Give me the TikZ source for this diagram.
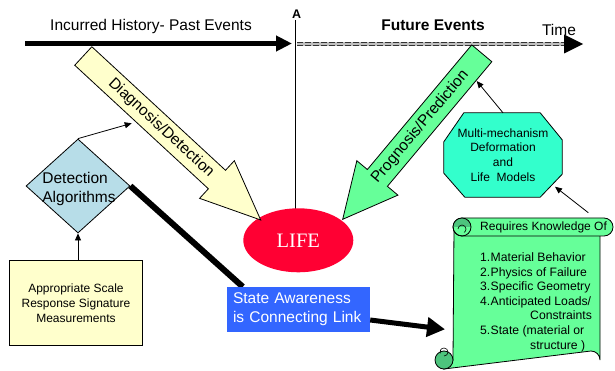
\documentclass[tikz,border=0pt]{standalone}
\usepackage{fontspec}
\setmainfont{Liberation Sans}
\newfontfamily\serifLS{Liberation Serif}
\usetikzlibrary{shapes.geometric,arrows.meta,calc}
\pgfdeclarelayer{bg}
\pgfsetlayers{bg,main}
\definecolor{yel}{HTML}{FFFFCC}
\definecolor{grn}{HTML}{66FF99}
\definecolor{dgrn}{HTML}{4DC47D}
\definecolor{aqua}{HTML}{33FFCC}
\definecolor{pblue}{HTML}{B7DDE8}
\definecolor{lred}{HTML}{FF0033}
\definecolor{sblue}{HTML}{3366FF}
\begin{document}
\begin{tikzpicture}[x=1pt,y=-1pt,
  big/.style={inner sep=0, font=\fontsize{15.5}{19}\selectfont},
  small/.style={inner sep=0, font=\fontsize{12}{14.6}\selectfont},
  listtxt/.style={inner sep=0, anchor=base west, font=\fontsize{12.2}{14}\selectfont},
  thinarrow/.style={line width=0.8pt, -{Triangle[length=7pt,width=6pt]}},
  blockarrow/.style={draw=black, line width=0.8pt, line join=miter}]
\useasboundingbox (0,0) rectangle (615,371);

% ---- time axis
\coordinate (pstart) at (25,43.5);
\coordinate (pend) at (292,43.5);
\draw[line width=4.5pt, -{Triangle[length=16pt,width=15pt]}] (pstart) -- (pend);
\coordinate (fstart) at (297,44);
\coordinate (fmid) at (566,44);
\coordinate (fend) at (583,44);
\draw[line width=4.4pt, gray!50] (fstart) -- (fmid);
\draw[line width=1.1pt, black!80, dash pattern=on 6pt off 2pt] ($(fstart)+(0,-1.6)$) -- ($(fmid)+(0,-1.6)$);
\draw[line width=1.1pt, black!80, dash pattern=on 6pt off 2pt] ($(fstart)+(0,1.6)$) -- ($(fmid)+(0,1.6)$);
\fill (fend) -- ($(fend)+(-19,-9.5)$) -- ($(fend)+(-19,9.5)$) -- cycle;

\node[big, anchor=base] (past) at (151,30.7) {Incurred History- Past Events};
\node[inner sep=0, anchor=base, font=\bfseries\fontsize{15.5}{19}\selectfont] (future) at (433,30.7) {Future Events};
\node[big, anchor=base] (time) at (559,35.5) {Time};
\node[inner sep=0, anchor=base, font=\bfseries\fontsize{12.5}{13}\selectfont] (A) at (296.7,18.5) {A};

\coordinate (vtop) at (295.7,20);
\begin{pgfonlayer}{bg}
\draw[line width=0.9pt] (vtop) -- (295.7,215);
\end{pgfonlayer}

% ---- LIFE
\node[ellipse, fill=lred, minimum width=110pt, minimum height=64pt, inner sep=0,
      text=white, font=\serifLS\fontsize{20.5}{22}\selectfont] (life) at (298.3,240.3) {LIFE};

% ---- Diagnosis / Detection block arrow
\begin{scope}[shift={(83.3,56)}, rotate=-42.75]
  \draw[blockarrow, fill=yel] (0,-12.6) -- (182,-12.6) -- (182,-25.6) -- (241.6,0)
     -- (182,25.6) -- (182,12.6) -- (0,12.6) -- cycle;
\end{scope}
\node[big, rotate=-42.75] (dgtxt) at (161.1,128) {Diagnosis/Detection};

% ---- Prognosis / Prediction block arrow
\begin{scope}[shift={(481.8,53.3)}, rotate=-129.96]
  \draw[blockarrow, fill=grn] (0,-13.1) -- (162.6,-13.1) -- (162.6,-26.8) -- (216.6,0)
     -- (162.6,26.8) -- (162.6,13.1) -- (0,13.1) -- cycle;
\end{scope}
\node[big, rotate=50.04] (pgtxt) at (420.2,126.9) {Prognosis/Prediction};

% ---- Detection algorithms
\node[diamond, fill=pblue, draw, line width=0.8pt, minimum width=104pt, minimum height=94pt, inner sep=0] (det) at (78,186) {};
\node[big, align=left] (dettxt) at (79,188.5) {Detection\\Algorithms};

% ---- measurements box
\node[draw, fill=yel, line width=0.8pt, minimum width=133pt, minimum height=85pt, align=center,
      inner sep=0, font=\fontsize{12}{15}\selectfont] (meas) at (76,303.3)
      {Appropriate Scale\\Response Signature\\Measurements};

\coordinate (dgside) at (131.7,123.3);
\draw[thinarrow] (det.north) -- (dgside);
\draw[thinarrow] (meas.north -| det.south) -- (det.south);

% ---- state awareness
\node[fill=sblue, text=white, minimum width=143pt, minimum height=45pt, align=left, inner sep=0,
      text width=131pt, font=\fontsize{15.5}{19}\selectfont] (sa) at (298.5,309.5)
      {State Awareness\\is Connecting Link};
\begin{pgfonlayer}{bg}
\draw[line width=6pt] (det.east) -- ($(sa.north west)+(16,0)$);
\end{pgfonlayer}

% ---- octagon
\node[small, align=center, minimum width=118pt, minimum height=84pt] (oct) at (503,155)
  {Multi-mechanism\\Deformation\\and\\Life\ \ Models};
\begin{pgfonlayer}{bg}
\draw[fill=aqua, line width=0.8pt] ($(oct.north west)+(20,0)$) -- ($(oct.north east)+(-22,0)$)
  -- ($(oct.north east)+(0,27)$) -- ($(oct.south east)+(0,-23)$) -- ($(oct.south east)+(-22,0)$)
  -- ($(oct.south west)+(21,0)$) -- ($(oct.south west)+(0,-24)$) -- ($(oct.north west)+(0,29)$) -- cycle;
\end{pgfonlayer}
\coordinate (pgside) at (476.7,81);
\draw[thinarrow] (oct.north) -- (pgside);

% ---- scroll
\begin{pgfonlayer}{bg}
\draw[fill=grn, line width=0.8pt] (454,227) -- (600,227) -- (600,360)
   arc[start angle=0, end angle=-90, radius=9] -- (444,369) -- (453,360) -- cycle;
\draw[fill=dgrn, line width=0.8pt] (444,360) circle[radius=9];
\draw[line width=0.6pt] (444,360) ++(0,-4) arc[start angle=90, end angle=-200, radius=4];
\draw[fill=grn, line width=0.8pt, rounded corners=9pt] (453,218) rectangle (613,236);
\fill[dgrn] (453,227) arc[start angle=180, end angle=360, radius=9] -- cycle;
\draw[line width=0.8pt] (462,227) circle[radius=9];
\draw[line width=0.6pt] (458,229) arc[start angle=180, end angle=420, radius=4];
\end{pgfonlayer}
\node[inner sep=0, anchor=base west, font=\fontsize{12}{15}\selectfont] (req) at (480,230.5) {Requires Knowledge Of};
\node[listtxt] (n1) at (480,261) {1.};
\node[listtxt] (i1) at (490.5,261) {Material Behavior};
\node[listtxt] (n2) at (480,276) {2.};
\node[listtxt] (i2) at (490.5,276) {Physics of Failure};
\node[listtxt] (n3) at (480,290.3) {3.};
\node[listtxt] (i3) at (490.5,290.3) {Specific Geometry};
\node[listtxt] (n4) at (480,305) {4.};
\node[listtxt] (i4) at (490.5,305) {Anticipated Loads/};
\node[listtxt] (i4b) at (530,319.3) {Constraints};
\node[listtxt] (n5) at (480,334.3) {5.};
\node[listtxt] (i5) at (490.5,334.3) {State (material or};
\node[listtxt] (i5b) at (530,349.3) {structure )};

\coordinate (scrolltop) at (588.3,212.7);
\coordinate (octse) at (555,186.7);
\draw[thinarrow] (scrolltop) -- (octse);

\coordinate (scrollin) at (445,329.3);
\draw[line width=5pt, -{Triangle[length=18pt,width=19pt]}] ($(sa.east)+(0,10.5)$) -- (scrollin);
\end{tikzpicture}
\end{document}
